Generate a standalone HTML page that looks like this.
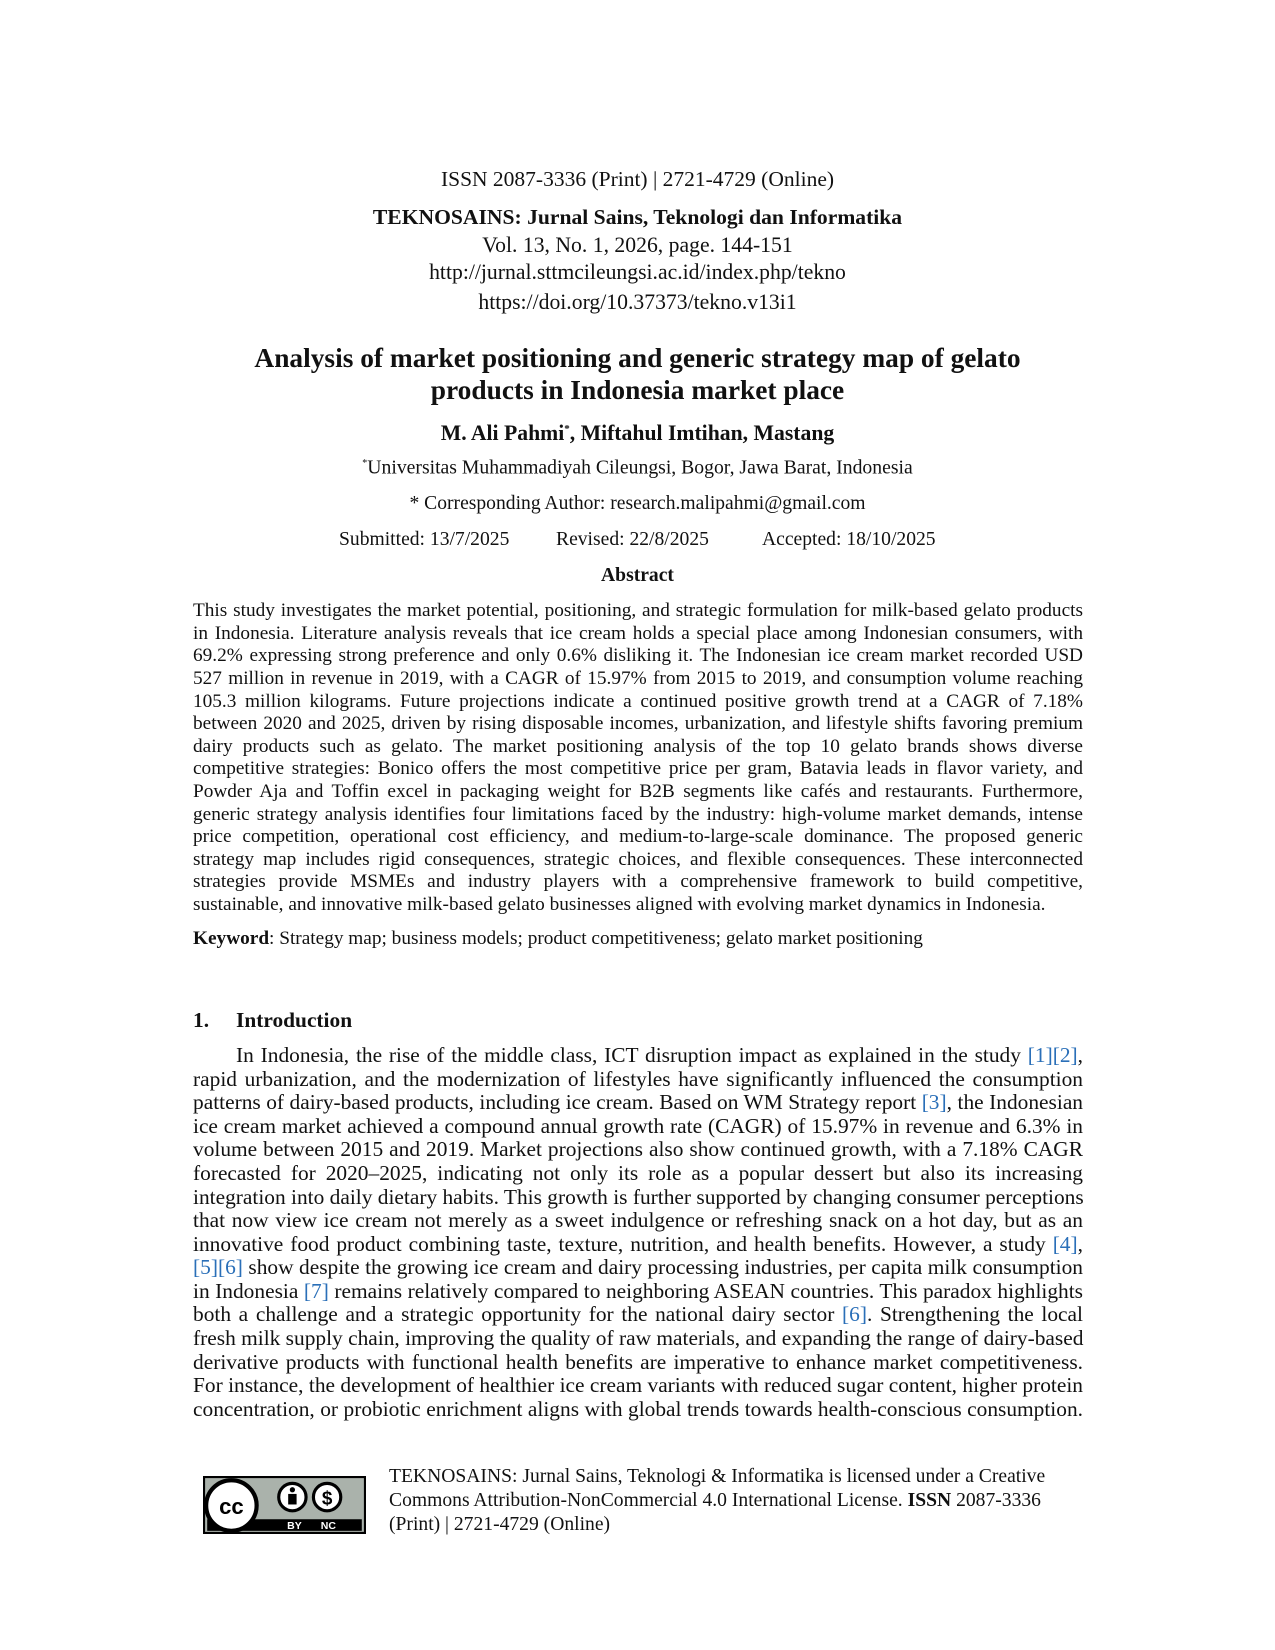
<!DOCTYPE html>
<html><head><meta charset="utf-8">
<style>
body{margin:0;background:#fff;}
#p{position:relative;width:1275px;height:1650px;background:#fff;font-family:"Liberation Serif",serif;color:#111;overflow:hidden}
.c{position:absolute;left:0;width:1275px;text-align:center;white-space:nowrap}
.l{position:absolute;left:193px;width:890px;text-align:justify;text-align-last:justify;white-space:nowrap}
.l.e{text-align-last:left}
.a{font-size:19.3px;height:22px;line-height:22px}
.i{font-size:21.4px;height:23px;line-height:23px}
.b{color:#2a6fb8}
</style></head><body><div id="p">
<div class="c" style="top:167px;font-size:21.5px;line-height:25px">ISSN 2087-3336 (Print) | 2721-4729 (Online)</div>
<div class="c" style="top:205px;font-size:21.6px;line-height:25px;font-weight:bold">TEKNOSAINS: Jurnal Sains, Teknologi dan Informatika</div>
<div class="c" style="top:233px;font-size:21.7px;line-height:25px">Vol. 13, No. 1, 2026, page. 144-151</div>
<div class="c" style="top:260px;font-size:21.7px;line-height:25px">http://jurnal.sttmcileungsi.ac.id/index.php/tekno</div>
<div class="c" style="top:290px;font-size:21.7px;line-height:25px">https://doi.org/10.37373/tekno.v13i1</div>
<div class="c" style="top:342px;font-size:27.4px;line-height:32px;font-weight:bold">Analysis of market positioning and generic strategy map of gelato</div>
<div class="c" style="top:374px;font-size:27.4px;line-height:32px;font-weight:bold">products in Indonesia market place</div>
<div class="c" style="top:417px;font-size:21.7px;line-height:25px;font-weight:bold">M. Ali Pahmi<sup style="font-size:11px">*</sup>, Miftahul Imtihan, Mastang</div>
<div class="c" style="top:452px;font-size:19.7px;line-height:23px"><sup style="font-size:10px">*</sup>Universitas Muhammadiyah Cileungsi, Bogor, Jawa Barat, Indonesia</div>
<div class="c" style="top:492px;font-size:19.6px;line-height:23px">* Corresponding Author: research.malipahmi@gmail.com</div>
<div style="position:absolute;top:528px;left:339px;font-size:19.6px;line-height:23px;white-space:nowrap">Submitted: 13/7/2025</div>
<div style="position:absolute;top:528px;left:556px;font-size:19.6px;line-height:23px;white-space:nowrap">Revised: 22/8/2025</div>
<div style="position:absolute;top:528px;left:762px;font-size:19.6px;line-height:23px;white-space:nowrap">Accepted: 18/10/2025</div>
<div class="c" style="top:564px;font-size:19.6px;line-height:23px;font-weight:bold">Abstract</div>

<div class="l a" style="top:600px">This study investigates the market potential, positioning, and strategic formulation for milk-based gelato products</div>
<div class="l a" style="top:623px">in Indonesia. Literature analysis reveals that ice cream holds a special place among Indonesian consumers, with</div>
<div class="l a" style="top:645px">69.2% expressing strong preference and only 0.6% disliking it. The Indonesian ice cream market recorded USD</div>
<div class="l a" style="top:668px">527 million in revenue in 2019, with a CAGR of 15.97% from 2015 to 2019, and consumption volume reaching</div>
<div class="l a" style="top:691px">105.3 million kilograms. Future projections indicate a continued positive growth trend at a CAGR of 7.18%</div>
<div class="l a" style="top:713px">between 2020 and 2025, driven by rising disposable incomes, urbanization, and lifestyle shifts favoring premium</div>
<div class="l a" style="top:736px">dairy products such as gelato. The market positioning analysis of the top 10 gelato brands shows diverse</div>
<div class="l a" style="top:758px">competitive strategies: Bonico offers the most competitive price per gram, Batavia leads in flavor variety, and</div>
<div class="l a" style="top:781px">Powder Aja and Toffin excel in packaging weight for B2B segments like cafés and restaurants. Furthermore,</div>
<div class="l a" style="top:804px">generic strategy analysis identifies four limitations faced by the industry: high-volume market demands, intense</div>
<div class="l a" style="top:826px">price competition, operational cost efficiency, and medium-to-large-scale dominance. The proposed generic</div>
<div class="l a" style="top:849px">strategy map includes rigid consequences, strategic choices, and flexible consequences. These interconnected</div>
<div class="l a" style="top:871px">strategies provide MSMEs and industry players with a comprehensive framework to build competitive,</div>
<div class="l a e" style="top:894px">sustainable, and innovative milk-based gelato businesses aligned with evolving market dynamics in Indonesia.</div>
<div class="l a e" style="top:928px"><b>Keyword</b>: Strategy map; business models; product competitiveness; gelato market positioning</div>

<div class="l i e" style="top:1009px;font-weight:bold"><span style="display:inline-block;width:43px">1.</span>Introduction</div>
<div class="l i" style="top:1044px"><span style="display:inline-block;width:43px"></span>In Indonesia, the rise of the middle class, ICT disruption impact as explained in the study <span class="b">[1][2]</span>,</div>
<div class="l i" style="top:1068px">rapid urbanization, and the modernization of lifestyles have significantly influenced the consumption</div>
<div class="l i" style="top:1091px">patterns of dairy-based products, including ice cream. Based on WM Strategy report <span class="b">[3]</span>, the Indonesian</div>
<div class="l i" style="top:1115px">ice cream market achieved a compound annual growth rate (CAGR) of 15.97% in revenue and 6.3% in</div>
<div class="l i" style="top:1138px">volume between 2015 and 2019. Market projections also show continued growth, with a 7.18% CAGR</div>
<div class="l i" style="top:1162px">forecasted for 2020–2025, indicating not only its role as a popular dessert but also its increasing</div>
<div class="l i" style="top:1186px">integration into daily dietary habits. This growth is further supported by changing consumer perceptions</div>
<div class="l i" style="top:1209px">that now view ice cream not merely as a sweet indulgence or refreshing snack on a hot day, but as an</div>
<div class="l i" style="top:1233px">innovative food product combining taste, texture, nutrition, and health benefits. However, a study <span class="b">[4]</span>,</div>
<div class="l i" style="top:1256px"><span class="b">[5][6]</span> show despite the growing ice cream and dairy processing industries, per capita milk consumption</div>
<div class="l i" style="top:1280px">in Indonesia <span class="b">[7]</span> remains relatively compared to neighboring ASEAN countries. This paradox highlights</div>
<div class="l i" style="top:1303px">both a challenge and a strategic opportunity for the national dairy sector <span class="b">[6]</span>. Strengthening the local</div>
<div class="l i" style="top:1327px">fresh milk supply chain, improving the quality of raw materials, and expanding the range of dairy-based</div>
<div class="l i" style="top:1351px">derivative products with functional health benefits are imperative to enhance market competitiveness.</div>
<div class="l i" style="top:1374px">For instance, the development of healthier ice cream variants with reduced sugar content, higher protein</div>
<div class="l i" style="top:1398px">concentration, or probiotic enrichment aligns with global trends towards health-conscious consumption.</div>

<svg style="position:absolute;left:203px;top:1476px" width="163" height="58" viewBox="0 0 155 55" preserveAspectRatio="none">
<rect x="0" y="0" width="155" height="55" fill="#aab2ab"/>
<rect x="1" y="1" width="153" height="53" fill="none" stroke="#000" stroke-width="2"/>
<rect x="4" y="41" width="147" height="11" fill="#000"/>
<text x="80" y="50.5" font-family="Liberation Sans,sans-serif" font-size="10" font-weight="bold" fill="#fff">BY</text>
<text x="112" y="50.5" font-family="Liberation Sans,sans-serif" font-size="10" font-weight="bold" fill="#fff">NC</text>
<circle cx="27" cy="28" r="24" fill="#fff" stroke="#000" stroke-width="4"/>
<text x="27" y="36" text-anchor="middle" font-family="Liberation Sans,sans-serif" font-size="21" font-weight="bold" fill="#000">cc</text>
<circle cx="85" cy="20" r="13" fill="#fff" stroke="#000" stroke-width="3"/>
<circle cx="85" cy="13" r="2.5" fill="#000"/>
<rect x="81" y="17" width="8" height="10" fill="#000"/>
<circle cx="118" cy="20" r="13" fill="#fff" stroke="#000" stroke-width="3"/>
<text x="118" y="27" text-anchor="middle" font-family="Liberation Sans,sans-serif" font-size="18" font-weight="bold" fill="#000">$</text>
</svg>
<div style="position:absolute;left:389px;top:1465px;font-size:19.6px;line-height:24px;width:760px">TEKNOSAINS: Jurnal Sains, Teknologi &amp; Informatika is licensed under a Creative<br>Commons Attribution-NonCommercial 4.0 International License. <b>ISSN</b> 2087-3336<br>(Print) | 2721-4729 (Online)</div>
</div></body></html>
